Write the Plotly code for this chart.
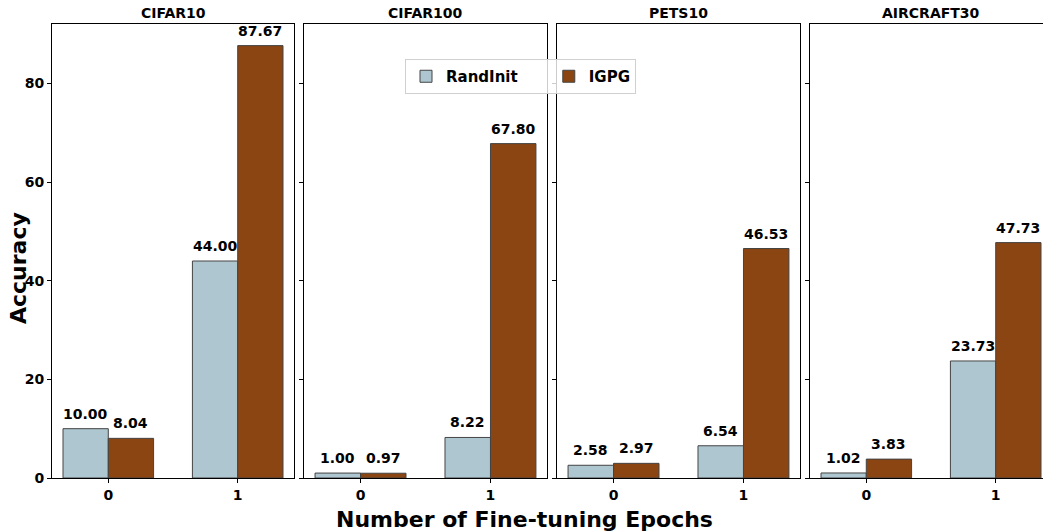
import plotly.graph_objects as go

datasets = ["CIFAR10", "CIFAR100", "PETS10", "AIRCRAFT30"]
epochs = [0, 1]
randinit = [[10.00, 44.00], [1.00, 8.22], [2.58, 6.54], [1.02, 23.73]]
igpg = [[8.04, 87.67], [0.97, 67.80], [2.97, 46.53], [3.83, 47.73]]
series_names = ["RandInit", "IGPG"]
colors = ["#AEC6CF", "#8B4513"]

W, H = 1043, 531
L, R, T, B = 52, 0, 24, 53
pw = W - L - R
ph = H - T - B
panels_px = [(52, 294), (304, 547), (557, 800), (810, 1043)]
unit_px = 242 / 1.87
ymax = 87.67 * 1.05
BAR_W = 0.35

FONT = dict(family="DejaVu Sans", size=14, color="black", weight="bold")
LFONT = dict(family="DejaVu Sans", size=15, color="black", weight="bold")

fig = go.Figure()
annotations = []
for i, ds in enumerate(datasets):
    key = "" if i == 0 else str(i + 1)
    for s, (name, vals) in enumerate(zip(series_names, [randinit, igpg])):
        fig.add_trace(go.Bar(
            x=epochs, y=vals[i], name=name, xaxis="x" + key, yaxis="y" + key,
            marker=dict(color=colors[s], line=dict(color="#444444", width=1)),
            showlegend=(i == 0), legendgroup=name, offsetgroup=str(s),
        ))
        off = -BAR_W / 2 if s == 0 else BAR_W / 2
        for e, v in zip(epochs, vals[i]):
            annotations.append(dict(
                text=f"{v:.2f}", x=e + off, xref="x" + key, y=v, yref="y" + key,
                xanchor="center", yanchor="bottom", yshift=5, showarrow=False,
                font=FONT,
            ))

layout = dict(
    width=W, height=H, margin=dict(l=L, r=R, t=T, b=B),
    plot_bgcolor="white", paper_bgcolor="white",
    barmode="group", bargap=0.3, bargroupgap=0,
    font=FONT,
    legend=dict(orientation="h", x=(405 - L) / pw, y=(H - B - 59) / ph,
                xanchor="left", yanchor="top",
                bgcolor="rgba(255,255,255,0.8)", bordercolor="#d0d0d0", borderwidth=1,
                font=LFONT, itemwidth=30, traceorder="normal"),
)
for i, (x0, x1) in enumerate(panels_px):
    key = "" if i == 0 else str(i + 1)
    d0 = (x0 - L) / pw
    d1 = min((x1 - L) / pw, 1.0)
    rng_hi = -0.435 + (x1 - x0) / unit_px if i == 3 else 1.435
    layout[f"xaxis{key}"] = dict(
        domain=[d0, d1], range=[-0.435, rng_hi], tickvals=epochs,
        ticktext=[str(e) for e in epochs],
        showline=True, linecolor="black", linewidth=1, mirror=True,
        ticks="outside", ticklen=4, tickcolor="black", showgrid=False,
        zeroline=False, tickfont=FONT, anchor="y" + key,
    )
    layout[f"yaxis{key}"] = dict(
        range=[0, ymax], tickvals=[0, 20, 40, 60, 80],
        showticklabels=(i == 0),
        showline=True, linecolor="black", linewidth=1, mirror=(i != 3),
        ticks="outside", ticklen=4, tickcolor="black", showgrid=False,
        zeroline=False, tickfont=FONT, anchor="x" + key,
    )
    if i > 0:
        layout[f"yaxis{key}"]["matches"] = "y"
    annotations.append(dict(
        text=datasets[i], x=0.5, xref="x" + key, y=1, yref="paper",
        yanchor="bottom", yshift=1, showarrow=False, font=FONT,
    ))

annotations.append(dict(
    text="Number of Fine-tuning Epochs", x=(524 - L) / pw, xref="paper",
    y=0, yref="paper", yanchor="middle", yshift=-41, showarrow=False,
    font=dict(family="DejaVu Sans", size=22, color="black", weight="bold"),
))
annotations.append(dict(
    text="Accuracy", x=0, xref="paper", xshift=-34, xanchor="center",
    y=(H - B - 268) / ph, yref="paper", yanchor="middle", textangle=-90,
    showarrow=False,
    font=dict(family="DejaVu Sans", size=22, color="black", weight="bold"),
))
layout["annotations"] = annotations
fig.update_layout(**layout)
fig.update_traces(name="RandInit\u00a0\u00a0\u00a0\u00a0\u00a0", selector=dict(name="RandInit"))
fig.write_html("out.html")
